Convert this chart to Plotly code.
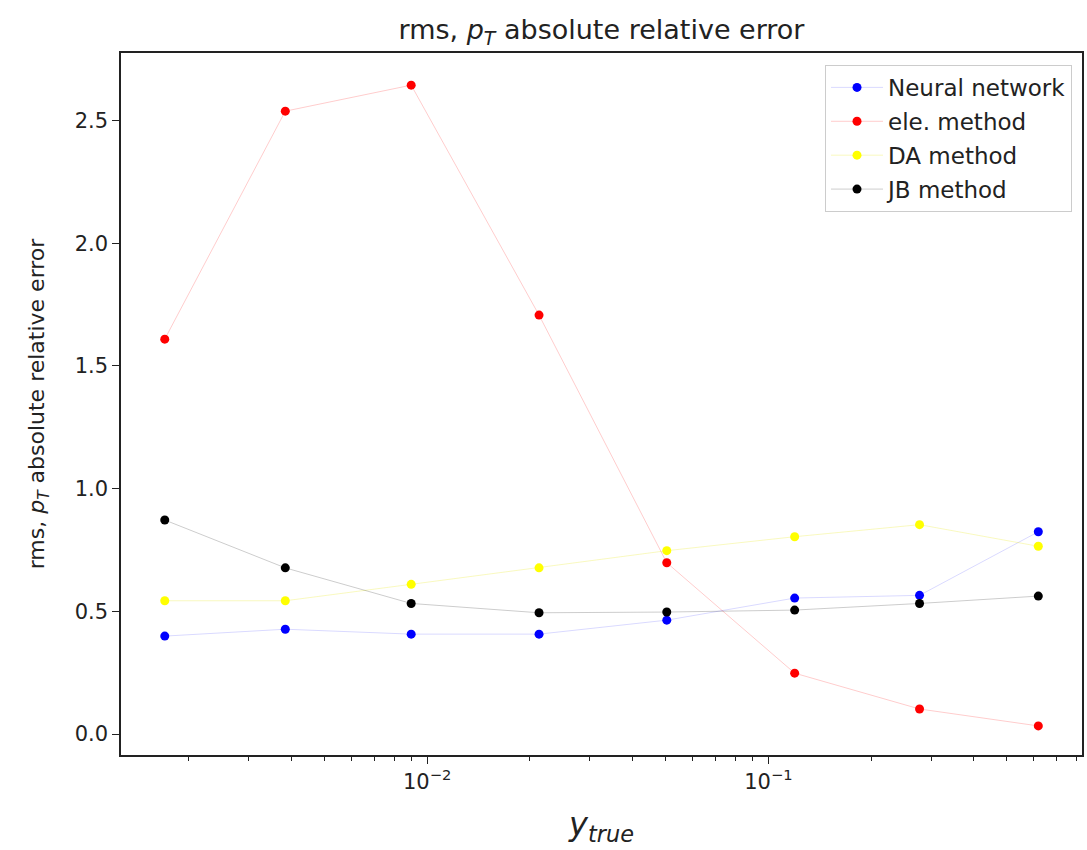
import plotly.graph_objects as go

# data
y_true = [0.001703, 0.003841, 0.008981, 0.02128, 0.05038, 0.1194, 0.2773, 0.618]
nn = [0.399, 0.427, 0.407, 0.407, 0.464, 0.554, 0.565, 0.824]
ele = [1.609, 2.538, 2.644, 1.707, 0.698, 0.248, 0.102, 0.033]
da = [0.543, 0.543, 0.610, 0.677, 0.747, 0.804, 0.853, 0.765]
jb = [0.872, 0.677, 0.532, 0.494, 0.497, 0.505, 0.532, 0.562]

series_names = ["Neural network", "ele. method", "DA method", "JB method"]
series_vals = [nn, ele, da, jb]
marker_colors = ["#0000ff", "#ff0000", "#ffff00", "#000000"]
line_colors = ["rgba(0,0,255,0.15)", "rgba(255,0,0,0.2)", "rgba(230,230,0,0.25)", "rgba(0,0,0,0.2)"]

major_ticks = [0.01, 0.1]
major_text = ["10<sup>−2</sup>", "10<sup>−1</sup>"]
minor_ticks = [m * 10 ** e for e in (-3, -2, -1) for m in range(2, 10)]
y_ticks = [0.0, 0.5, 1.0, 1.5, 2.0, 2.5]

fig = go.Figure()
for name, vals, mc, lc in zip(series_names, series_vals, marker_colors, line_colors):
    fig.add_trace(go.Scatter(
        x=y_true, y=vals, name=name, mode="lines+markers",
        legendgroup=name,
        line=dict(color=lc, width=1),
        marker=dict(color=mc, size=9),
    ))

font = "DejaVu Sans"
fig.update_layout(
    width=1087, height=850,
    margin=dict(l=121, r=3, t=53, b=95),
    paper_bgcolor="white", plot_bgcolor="white",
    font=dict(family=font, size=21, color="#222"),
    title=dict(text="rms, <i>p</i><sub><i>T</i></sub> absolute relative error",
               x=0.5, xref="paper", xanchor="center", y=0.965, yanchor="middle",
               font=dict(size=27, color="#222")),
    legend=dict(x=0.9896, xanchor="right", y=0.983, yanchor="top",
                bgcolor="white", bordercolor="#cccccc", borderwidth=1,
                font=dict(size=23, color="#222"), itemwidth=52,
                tracegroupgap=1),
    showlegend=True,
)
fig.update_xaxes(
    type="log", range=[-2.897, -0.081],
    tickvals=major_ticks, ticktext=major_text,
    ticks="outside", ticklen=7, tickwidth=1.2, tickcolor="#222",
    minor=dict(tickvals=minor_ticks, ticks="outside", ticklen=4, tickwidth=1, tickcolor="#222"),
    showline=True, linecolor="#222", linewidth=1.5, mirror=True,
    showgrid=False, zeroline=False,
    title=dict(text="<i>y</i><sub><i>true</i></sub>", font=dict(size=32, color="#222"), standoff=20),
    tickfont=dict(size=21),
)
fig.update_yaxes(
    range=[-0.0855, 2.775],
    tickvals=y_ticks, ticktext=[f"{v:.1f}" for v in y_ticks],
    ticks="outside", ticklen=7, tickwidth=1.2, tickcolor="#222",
    showline=True, linecolor="#222", linewidth=1.5, mirror=True,
    showgrid=False, zeroline=False,
    title=dict(text="rms, <i>p</i><sub><i>T</i></sub> absolute relative error", font=dict(size=22, color="#222"), standoff=24),
    tickfont=dict(size=21),
)

fig.write_html("out.html")
